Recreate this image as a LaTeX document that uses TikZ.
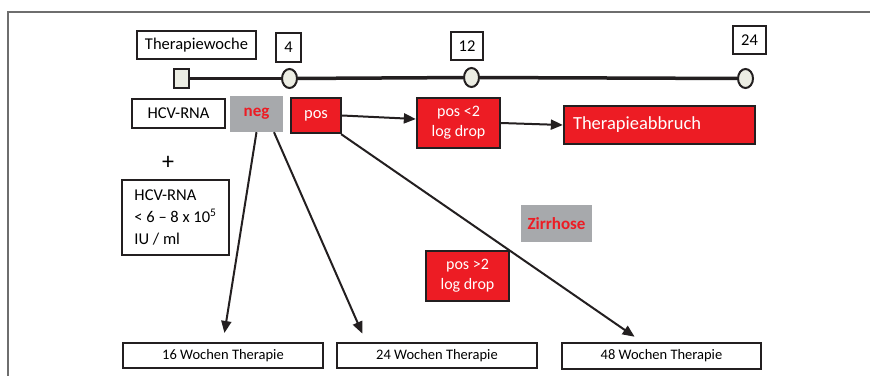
\documentclass[tikz,border=0pt]{standalone}
\usepackage{fontspec}
\setmainfont{Carlito}
\usetikzlibrary{arrows.meta,shapes.geometric}
\definecolor{rd}{HTML}{ED1C24}
\definecolor{gr}{HTML}{A7A9AC}
\definecolor{dk}{HTML}{231F20}
\definecolor{cf}{HTML}{ECEDE3}
\definecolor{fr}{HTML}{6E6E6E}
\begin{document}
\begin{tikzpicture}[x=1pt,y=-1pt,
  wbox/.style={draw=dk, line width=2.3pt, fill=white, inner sep=0pt, font=\fontsize{16.5}{19}\selectfont},
  bbox/.style={draw=dk, line width=2.3pt, fill=white, inner sep=0pt, minimum width=200pt, minimum height=25pt, font=\fontsize{14.5}{17}\selectfont},
  redbox/.style={draw=dk, line width=2.3pt, fill=rd, text=white, inner sep=0pt, align=center, font=\fontsize{16}{20}\selectfont},
  graybox/.style={fill=gr, text=rd, inner sep=0pt, font=\fontsize{17}{19}\selectfont\bfseries},
  tickmark/.style={draw=dk, line width=2pt, fill=cf, ellipse, inner sep=0pt, minimum width=15pt, minimum height=19pt},
  arr/.style={draw=dk, line width=2pt, -{Triangle[length=12pt,width=10pt]}},
]
\useasboundingbox (0,0) rectangle (870,376);
\draw[fr, line width=2pt] (870,12) -- (8,12) -- (8,376);

% timeline labels
\node[wbox, minimum width=119pt, minimum height=28pt] (therw) at (196.5,45) {Therapiewoche};
\node[wbox, minimum width=25pt, minimum height=29pt] (w4) at (288.5,47.5) {4};
\node[wbox, minimum width=32pt, minimum height=28pt] (w12) at (467,46) {12};
\node[wbox, minimum width=33pt, minimum height=28pt] (w24) at (749.5,40) {24};

% timeline
\node[draw=dk, line width=2pt, fill=cf, inner sep=0pt, minimum width=15pt, minimum height=19pt] (sq) at (181.5,78.5) {};
\node[tickmark] (c4) at (289.5,78.5) {};
\node[tickmark] (c12) at (471.5,77.5) {};
\node[tickmark] (c24) at (745.5,78.5) {};
\draw[dk, line width=3.5pt] (sq) -- (c4);
\draw[dk, line width=3.5pt] (c4) -- (c12);
\draw[dk, line width=3.5pt] (c12) -- (c24);

% left column
\node[wbox, minimum width=93pt, minimum height=29pt] (hcv1) at (178.5,113.5) {HCV-RNA};
\node[font=\fontsize{24}{26}\selectfont] (plus) at (168,163) {+};
\node[wbox, minimum width=107pt, minimum height=75pt, align=left, font=\fontsize{16.5}{22}\selectfont] (hcv2) at (175.5,217.5) {HCV-RNA\\< 6 – 8 x 10\textsuperscript{5}\\IU / ml};

% results
\node[graybox, minimum width=53pt, minimum height=36pt] (neg) at (256.5,114) {\raisebox{2pt}{neg}};
\node[redbox, minimum width=50pt, minimum height=35pt, font=\fontsize{16.5}{19}\selectfont] (pos) at (316,115.5) {pos};
\node[redbox, minimum width=83pt, minimum height=50pt] (posl) at (458.5,123) {pos <2\\log drop};
\node[redbox, minimum width=191pt, minimum height=38pt, text width=173pt, align=left, font=\fontsize{18.5}{21}\selectfont] (abb) at (659.5,125) {Therapieabbruch};
\node[graybox, minimum width=71pt, minimum height=37pt] (zirr) at (556.5,223.5) {Zirrhose};
\node[redbox, minimum width=83pt, minimum height=50pt] (posg) at (467.5,276) {pos >2\\log drop};

% outcomes
\node[bbox] (b1) at (223,355.5) {16 Wochen Therapie};
\node[bbox] (b2) at (437,355.5) {24 Wochen Therapie};
\node[bbox, minimum width=199pt, minimum height=26pt] (b3) at (661.5,356) {48 Wochen Therapie};

% connectors
\draw[arr] (pos.east) -- ([yshift=4pt]posl.west);
\draw[arr] (posl.east) -- (abb.west);
\draw[arr, shorten >=9pt] (neg.south) -- (b1.north);
\draw[arr, shorten >=9pt] ([xshift=17.5pt]neg.south) -- ([xshift=-71pt]b2.north);
\draw[arr, shorten >=9pt] ([xshift=-1pt]pos.south east) -- ([xshift=-19.5pt]b3.north);
\end{tikzpicture}
\end{document}
